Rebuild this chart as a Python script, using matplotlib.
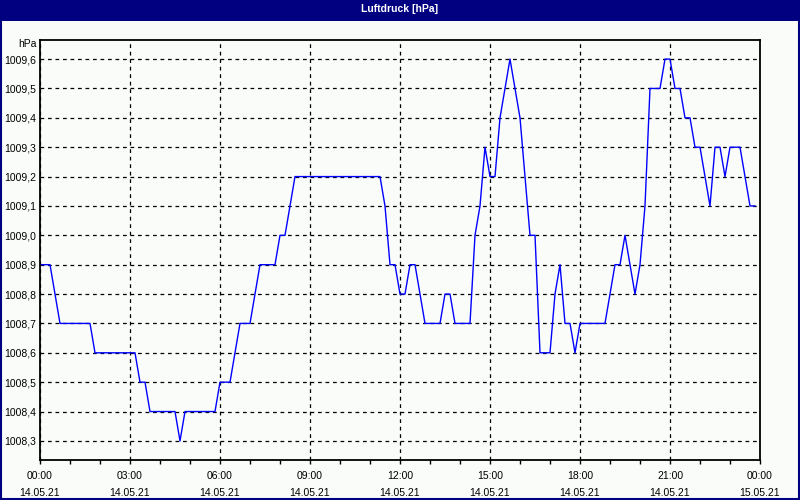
import matplotlib
matplotlib.use("Agg")
import matplotlib.pyplot as plt
import matplotlib.dates as mdates
from matplotlib.patches import Rectangle
from matplotlib.ticker import FuncFormatter, MultipleLocator
import pandas as pd

# Luftdruck, 10-Minuten-Werte vom 14.05.21 (hPa)
pressure = [
    1008.9, 1008.9, 1008.9, 1008.8, 1008.7, 1008.7, 1008.7, 1008.7, 1008.7, 1008.7,
    1008.7, 1008.6, 1008.6, 1008.6, 1008.6, 1008.6, 1008.6, 1008.6, 1008.6, 1008.6,
    1008.5, 1008.5, 1008.4, 1008.4, 1008.4, 1008.4, 1008.4, 1008.4, 1008.3, 1008.4,
    1008.4, 1008.4, 1008.4, 1008.4, 1008.4, 1008.4, 1008.5, 1008.5, 1008.5, 1008.6,
    1008.7, 1008.7, 1008.7, 1008.8, 1008.9, 1008.9, 1008.9, 1008.9, 1009.0, 1009.0,
    1009.1, 1009.2, 1009.2, 1009.2, 1009.2, 1009.2, 1009.2, 1009.2, 1009.2, 1009.2,
    1009.2, 1009.2, 1009.2, 1009.2, 1009.2, 1009.2, 1009.2, 1009.2, 1009.2, 1009.1,
    1008.9, 1008.9, 1008.8, 1008.8, 1008.9, 1008.9, 1008.8, 1008.7, 1008.7, 1008.7,
    1008.7, 1008.8, 1008.8, 1008.7, 1008.7, 1008.7, 1008.7, 1009.0, 1009.1, 1009.3,
    1009.2, 1009.2, 1009.4, 1009.5, 1009.6, 1009.5, 1009.4, 1009.2, 1009.0, 1009.0,
    1008.6, 1008.6, 1008.6, 1008.8, 1008.9, 1008.7, 1008.7, 1008.6, 1008.7, 1008.7,
    1008.7, 1008.7, 1008.7, 1008.7, 1008.8, 1008.9, 1008.9, 1009.0, 1008.9, 1008.8,
    1008.9, 1009.1, 1009.5, 1009.5, 1009.5, 1009.6, 1009.6, 1009.5, 1009.5, 1009.4,
    1009.4, 1009.3, 1009.3, 1009.2, 1009.1, 1009.3, 1009.3, 1009.2, 1009.3, 1009.3,
    1009.3, 1009.2, 1009.1, 1009.1,
]
times = pd.date_range("2021-05-14 00:00", periods=len(pressure), freq="10min")

title = "Luftdruck [hPa]"
unit = "hPa"

navy = "#000080"
bg = "#fafcfa"
plt.rcParams['font.family'] = ['Liberation Sans', 'DejaVu Sans']

fig = plt.figure(figsize=(8, 5), dpi=100, facecolor=bg)
ax = fig.add_axes([0.05, 0.08, 0.90, 0.84], facecolor=bg)

# title bar + window frame
fig.patches.append(Rectangle((0, 1 - 21 / 500), 1, 21 / 500, transform=fig.transFigure,
                             facecolor=navy, edgecolor="none", zorder=0))
fig.patches.append(Rectangle((0.001, 0.002), 0.998, 0.997, transform=fig.transFigure,
                             facecolor="none", edgecolor=navy, linewidth=1.5, zorder=1))
fig.text(0.5, 1 - 9 / 500, title, color="white", fontsize=7.5, fontweight="bold",
         ha="center", va="center")

ax.plot(times, pressure, color="#0000ff", linewidth=1.0)

ax.set_xlim(pd.Timestamp("2021-05-14 00:00"), pd.Timestamp("2021-05-15 00:00"))
ax.set_ylim(1008.235, 1009.665)

ax.xaxis.set_major_locator(mdates.HourLocator(byhour=range(0, 24, 3)))
ax.xaxis.set_minor_locator(mdates.HourLocator())
ax.xaxis.set_major_formatter(mdates.DateFormatter("%H:%M\n%d.%m.%y"))
ax.yaxis.set_major_locator(MultipleLocator(0.1))
ax.yaxis.set_major_formatter(FuncFormatter(lambda v, p: ("%.1f" % v).replace(".", ",")))

ax.tick_params(axis="x", which="both", length=3, width=1, pad=5, labelsize=7.5)
ax.tick_params(axis="y", length=0, pad=3, labelsize=7.5)
for lab in ax.get_xticklabels():
    lab.set_linespacing(1.85)

ax.grid(True, which="major", color="black", linestyle=(0, (3, 3)), linewidth=0.9)
for s in ax.spines.values():
    s.set_linewidth(1.3)

fig.text(37 / 800, 1 - 44 / 500, unit, fontsize=7.5, ha="right", va="center")

fig.savefig("out.png", dpi=100, facecolor=bg)
